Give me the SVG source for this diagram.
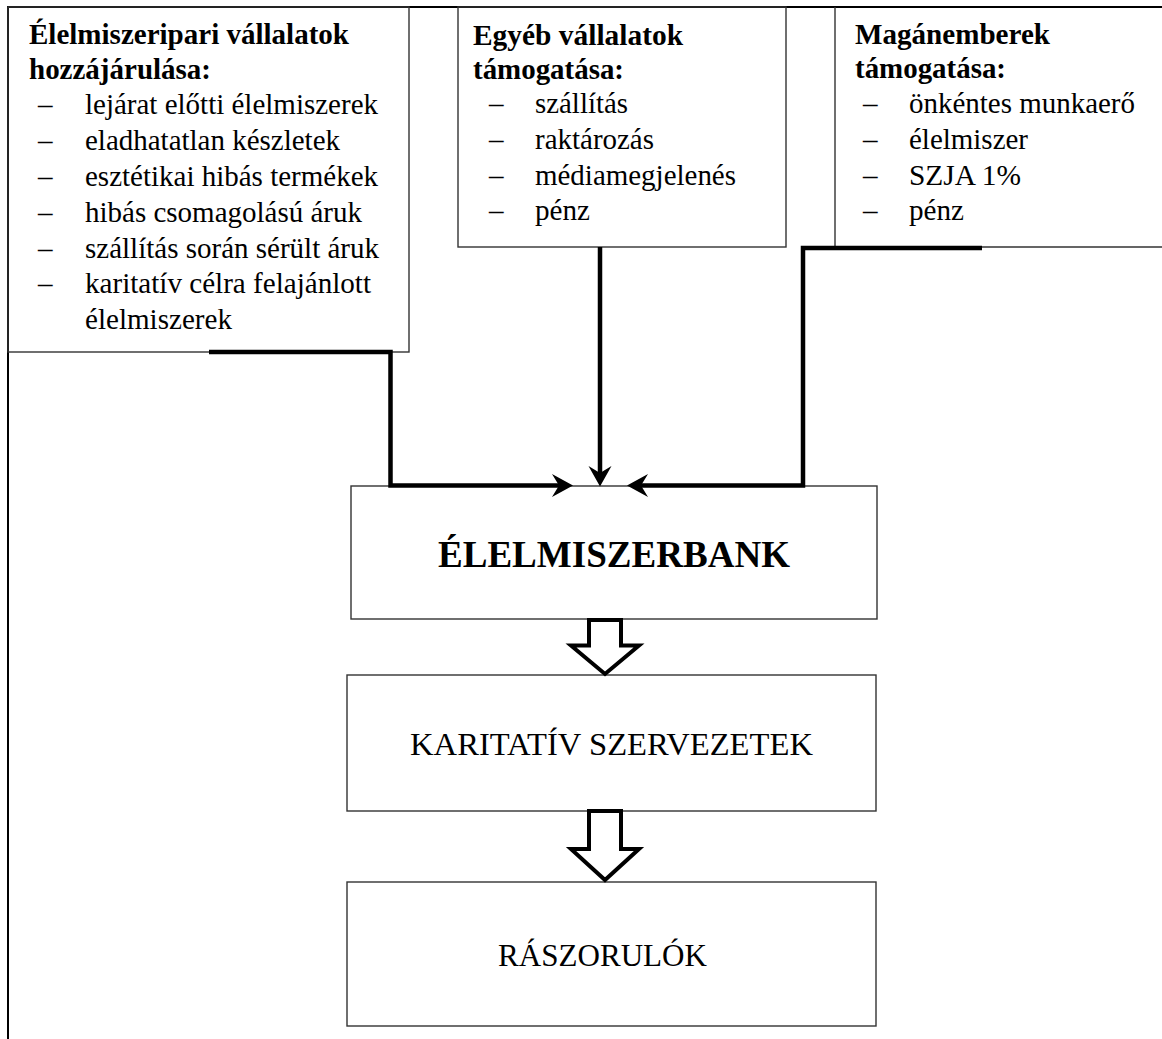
<svg xmlns="http://www.w3.org/2000/svg" width="1162" height="1039" viewBox="0 0 1162 1039">
<style>
.box{fill:none;stroke:#333;stroke-width:1.4}
.frame{fill:none;stroke:#000;stroke-width:2}
text{font-family:"Liberation Serif","Times New Roman",Times,"DejaVu Serif",serif;fill:#000}
.t{font-size:29px}
.b{font-weight:bold}
.conn{fill:none;stroke:#000;stroke-width:4.5;stroke-linejoin:miter;stroke-linecap:butt}
.head{fill:#000;stroke:none}
.hollow{fill:#fff;stroke:#000;stroke-width:4;stroke-linejoin:miter;stroke-miterlimit:10}
</style>
<rect width="1162" height="1039" fill="#fff"/>
<g id="frame">
<line class="frame" x1="8" y1="7" x2="1162" y2="7"/>
<line class="frame" x1="8" y1="6" x2="8" y2="1039"/>
</g>
<g id="node-elelmiszeripari">
<rect class="box" x="8" y="7" width="401" height="345"/>
<text class="t b" x="29" y="44" textLength="320" lengthAdjust="spacingAndGlyphs">Élelmiszeripari vállalatok</text>
<text class="t b" x="29" y="79" textLength="182" lengthAdjust="spacingAndGlyphs">hozzájárulása:</text>
<text class="t" x="38" y="114">–</text><text class="t" x="85" y="114" textLength="293" lengthAdjust="spacingAndGlyphs">lejárat előtti élelmiszerek</text>
<text class="t" x="38" y="150">–</text><text class="t" x="85" y="150" textLength="255" lengthAdjust="spacingAndGlyphs">eladhatatlan készletek</text>
<text class="t" x="38" y="186">–</text><text class="t" x="85" y="186" textLength="293" lengthAdjust="spacingAndGlyphs">esztétikai hibás termékek</text>
<text class="t" x="38" y="222">–</text><text class="t" x="85" y="222" textLength="277" lengthAdjust="spacingAndGlyphs">hibás csomagolású áruk</text>
<text class="t" x="38" y="258">–</text><text class="t" x="85" y="258" textLength="294" lengthAdjust="spacingAndGlyphs">szállítás során sérült áruk</text>
<text class="t" x="38" y="293">–</text><text class="t" x="85" y="293" textLength="286" lengthAdjust="spacingAndGlyphs">karitatív célra felajánlott</text>
<text class="t" x="85" y="329" textLength="147" lengthAdjust="spacingAndGlyphs">élelmiszerek</text>
</g>
<g id="node-egyeb">
<rect class="box" x="458" y="7" width="328" height="240"/>
<text class="t b" x="473" y="45" textLength="210" lengthAdjust="spacingAndGlyphs">Egyéb vállalatok</text>
<text class="t b" x="473" y="79" textLength="151" lengthAdjust="spacingAndGlyphs">támogatása:</text>
<text class="t" x="489" y="113">–</text><text class="t" x="535" y="113" textLength="93" lengthAdjust="spacingAndGlyphs">szállítás</text>
<text class="t" x="489" y="149">–</text><text class="t" x="535" y="149" textLength="119" lengthAdjust="spacingAndGlyphs">raktározás</text>
<text class="t" x="489" y="185">–</text><text class="t" x="535" y="185" textLength="201" lengthAdjust="spacingAndGlyphs">médiamegjelenés</text>
<text class="t" x="489" y="220">–</text><text class="t" x="535" y="220" textLength="55" lengthAdjust="spacingAndGlyphs">pénz</text>
</g>
<g id="node-maganemberek">
<path class="box" d="M835,7 V247 H1162"/>
<text class="t b" x="855" y="44" textLength="195" lengthAdjust="spacingAndGlyphs">Magánemberek</text>
<text class="t b" x="855" y="78" textLength="151" lengthAdjust="spacingAndGlyphs">támogatása:</text>
<text class="t" x="863" y="113">–</text><text class="t" x="909" y="113" textLength="226" lengthAdjust="spacingAndGlyphs">önkéntes munkaerő</text>
<text class="t" x="863" y="149">–</text><text class="t" x="909" y="149" textLength="119" lengthAdjust="spacingAndGlyphs">élelmiszer</text>
<text class="t" x="863" y="185">–</text><text class="t" x="909" y="185" textLength="112" lengthAdjust="spacingAndGlyphs">SZJA 1%</text>
<text class="t" x="863" y="220">–</text><text class="t" x="909" y="220" textLength="55" lengthAdjust="spacingAndGlyphs">pénz</text>
</g>
<g id="node-elelmiszerbank">
<rect class="box" x="351" y="486" width="526" height="133"/>
<text class="b" x="438" y="567" font-size="37" textLength="352" lengthAdjust="spacingAndGlyphs">ÉLELMISZERBANK</text>
</g>
<g id="node-karitativ">
<rect class="box" x="347" y="675" width="529" height="136"/>
<text x="410" y="755" font-size="32" textLength="403" lengthAdjust="spacingAndGlyphs">KARITATÍV SZERVEZETEK</text>
</g>
<g id="node-raszorulok">
<rect class="box" x="347" y="882" width="529" height="144"/>
<text x="498" y="966" font-size="31" textLength="209" lengthAdjust="spacingAndGlyphs">RÁSZORULÓK</text>
</g>
<g id="connectors">
<path class="conn" d="M209,352 H390.5 V485.5 H560"/>
<polygon class="head" points="573,485.5 552,474 559,485.5 552,497"/>
<path class="conn" d="M600,247 V473"/>
<polygon class="head" points="600,486.5 588.5,466 600,473 611.5,466"/>
<path class="conn" d="M982,248 H803 V485.5 H640"/>
<polygon class="head" points="627,485.5 648,474 641,485.5 648,497"/>
<polygon class="hollow" points="589,620 621,620 621,645.5 639,645.5 605,674 571,645.5 589,645.5"/>
<polygon class="hollow" points="589,811 621,811 621,849 639,849 605,880 571,849 589,849"/>
</g>
</svg>
